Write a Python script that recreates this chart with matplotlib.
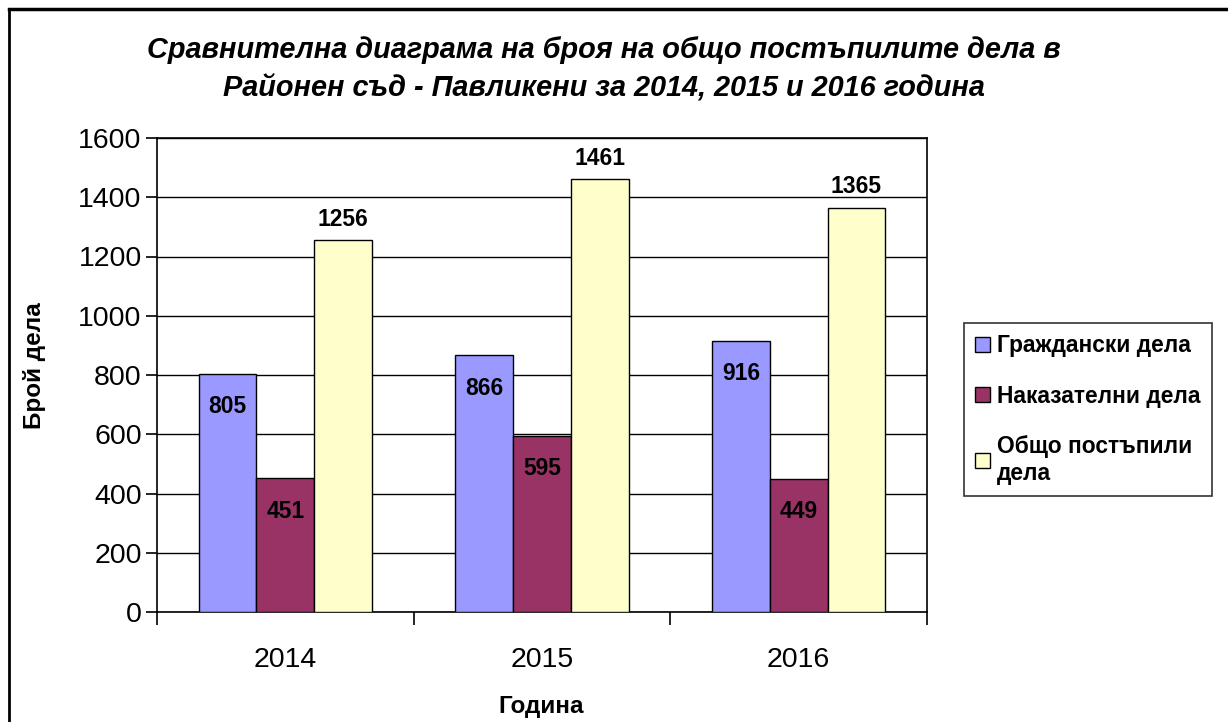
import matplotlib
matplotlib.use("Agg")
import matplotlib.pyplot as plt
import numpy as np
from matplotlib.lines import Line2D

years = ["2014", "2015", "2016"]
series_names = ["Граждански дела", "Наказателни дела", "Общо постъпили\nдела"]
civil = [805, 866, 916]
criminal = [451, 595, 449]
total = [1256, 1461, 1365]
colors = ["#9999FF", "#993366", "#FFFFCC"]
title = "Сравнителна диаграма на броя на общо постъпилите дела в\nРайонен съд - Павликени за 2014, 2015 и 2016 година"
yticks = [0, 200, 400, 600, 800, 1000, 1200, 1400, 1600]

plt.rcParams['font.family'] = ['Liberation Sans', 'DejaVu Sans']

fig = plt.figure(figsize=(12.28, 7.22), dpi=100)
ax = fig.add_axes([157/1228, 1-612/722, (927-157)/1228, (612-138)/722])

x = np.arange(len(years))
w = 0.225
data = [civil, criminal, total]
bars = []
for i, (vals, c, name) in enumerate(zip(data, colors, series_names)):
    b = ax.bar(x + (i-1)*w, vals, w, color=c, edgecolor="black", linewidth=1, label=name, zorder=3)
    bars.append(b)

for i, b in enumerate(bars):
    for rect, v in zip(b, data[i]):
        cx = rect.get_x() + rect.get_width()/2
        if i < 2:
            ax.annotate(str(v), (cx, v), xytext=(0, -23.5), textcoords="offset points",
                        ha="center", va="center", fontsize=16.5, fontweight="bold")
        else:
            ax.annotate(str(v), (cx, v), xytext=(0, 15), textcoords="offset points",
                        ha="center", va="center", fontsize=16.5, fontweight="bold")

ax.set_xlim(-0.5, 2.5)
ax.set_ylim(0, 1600)
ax.set_yticks(yticks)
ax.set_yticklabels([str(t) for t in yticks], fontsize=20.5)
ax.set_xticks(x)
ax.set_xticklabels(years, fontsize=20.5)
ax.tick_params(axis="x", length=0, pad=25)
ax.set_xticks([-0.5, 0.5, 1.5, 2.5], minor=True)
ax.tick_params(axis="x", which="minor", length=9, width=1.2, color="black")
ax.tick_params(axis="y", length=8, width=1.2, pad=3)
ax.grid(axis="y", color="black", linewidth=1, zorder=0)
for s in ax.spines.values():
    s.set_linewidth(1.2)
    s.set_color("black")

ax.set_ylabel("Брой дела", fontsize=17.5, fontweight="bold")
ax.yaxis.set_label_coords((46-157)/770, (612-366)/474)
ax.set_xlabel("Година", fontsize=17.5, fontweight="bold")
ax.xaxis.set_label_coords((541-157)/770, -(695-612)/474)

fig.text(604/1228, 1-69.5/722, title, ha="center", va="center", fontsize=20.8,
         fontweight="bold", fontstyle="italic", linespacing=1.48)

leg = ax.legend(loc="upper left", bbox_to_anchor=(964/1228, 1-323/722), bbox_transform=fig.transFigure,
                frameon=True, fancybox=False, edgecolor="black",
                handlelength=0.65, handleheight=0.65, handletextpad=0.3, labelspacing=1.2,
                borderpad=0.5, borderaxespad=0, prop={"weight": "bold", "size": 16.4})
leg.get_frame().set_linewidth(1.2)

# outer border
fig.add_artist(Line2D([9/1228, 9/1228], [0, 1-9/722], color="black", linewidth=2, transform=fig.transFigure))
fig.add_artist(Line2D([9/1228, 1], [1-9/722, 1-9/722], color="black", linewidth=2.5, transform=fig.transFigure))

fig.savefig("out.png", dpi=100)
